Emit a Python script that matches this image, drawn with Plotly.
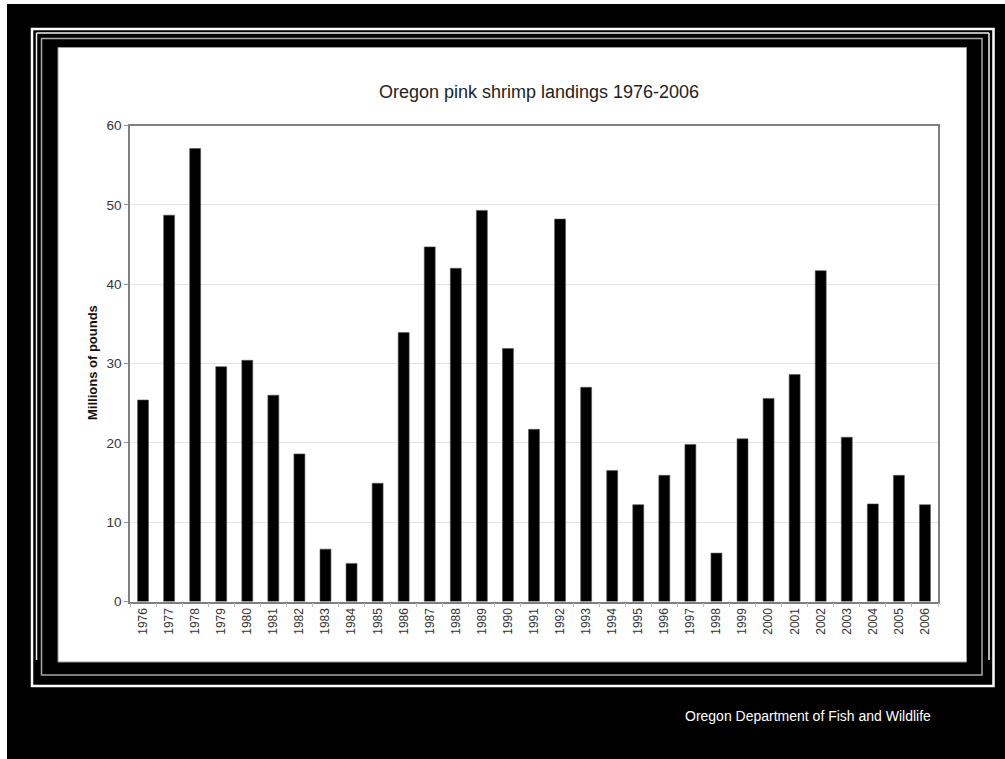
import plotly.graph_objects as go

years = [str(y) for y in range(1976, 2007)]
landings = [25.4, 48.7, 57.1, 29.6, 30.4, 26.0, 18.6, 6.6, 4.8, 14.9,
            33.9, 44.7, 42.0, 49.3, 31.9, 21.7, 48.2, 27.0, 16.5, 12.2,
            15.9, 19.8, 6.1, 20.5, 25.6, 28.6, 41.7, 20.7, 12.3, 15.9, 12.2]
y_ticks = [0, 10, 20, 30, 40, 50, 60]

W, H = 1005, 759
FONT = "Liberation Sans, Arial, sans-serif"


def px(x):
    return x / W


def py(y):
    return 1 - y / H


fig = go.Figure()
fig.add_trace(go.Bar(
    x=years, y=landings,
    marker=dict(color="#000000", line=dict(color="#555555", width=0.6)),
    width=0.42,
    hoverinfo="x+y",
))

shapes = []


def rect(x0, y0, x1, y1, fill=None, line=None, lw=0):
    d = dict(type="rect", xref="paper", yref="paper",
             x0=px(x0), x1=px(x1), y0=py(y1), y1=py(y0), layer="below")
    if fill:
        d["fillcolor"] = fill
    d["line"] = dict(color=line or "rgba(0,0,0,0)", width=lw)
    return d


def seg(x0, y0, x1, y1, color, lw):
    return dict(type="line", xref="paper", yref="paper",
                x0=px(x0), x1=px(x1), y0=py(y0), y1=py(y1),
                line=dict(color=color, width=lw), layer="below")


# black backdrop
shapes.append(rect(7, 4, W, H, fill="#000000"))
# outer white frame
shapes.append(rect(32, 29, 993.5, 686, line="#ffffff", lw=2.5))
# second white frame (open at bottom)
shapes.append(seg(36.5, 33, 989, 33, "#f0f0f0", 1.5))
shapes.append(seg(36.5, 33, 36.5, 660, "#f0f0f0", 1.5))
shapes.append(seg(989, 33, 989, 660, "#f0f0f0", 1.5))
# gray frame
shapes.append(rect(41.5, 38.5, 982, 675, line="#a8a8a8", lw=1.5))
# white chart panel
shapes.append(rect(58, 47.5, 966.5, 662, fill="#ffffff", line="#9a9a9a", lw=1))

fig.update_layout(
    template="none",
    width=W, height=H,
    margin=dict(l=0, r=0, t=0, b=0, pad=0, autoexpand=False),
    paper_bgcolor="#ffffff",
    plot_bgcolor="rgba(0,0,0,0)",
    shapes=shapes,
    showlegend=False,
    bargap=0.58,
    font=dict(family=FONT, color="#333333"),
    title=dict(text="Oregon pink shrimp landings 1976-2006",
               x=px(539), y=py(92), xref="paper", yref="paper",
               xanchor="center", yanchor="middle",
               font=dict(family=FONT, size=18, color="#222222")),
    xaxis=dict(
        domain=[px(130), px(938)],
        type="category",
        automargin=False,
        tickangle=-90,
        tickfont=dict(size=12, color="#333333"),
        ticks="outside", tickson="boundaries", ticklen=4,
        tickcolor="#bbbbbb", tickwidth=1,
        showline=True, linecolor="#808080", linewidth=1.5, mirror=True,
        showgrid=False,
    ),
    yaxis=dict(
        domain=[py(601.5), py(125.5)],
        range=[0, 60],
        automargin=False,
        tickvals=y_ticks,
        tickfont=dict(size=13.5, color="#333333"),
        ticks="outside", ticklen=4, tickcolor="#909090",
        showline=True, linecolor="#808080", linewidth=1.5, mirror=True,
        showgrid=True, gridcolor="#e3e3e3", gridwidth=1,
        zeroline=False,
    ),
    annotations=[
        dict(text="<b>Millions of pounds</b>", xref="paper", yref="paper",
             x=px(92), y=py(363), textangle=-90, showarrow=False,
             xanchor="center", yanchor="middle",
             font=dict(family=FONT, size=13, color="#111111")),
        dict(text="Oregon Department of Fish and Wildlife", xref="paper", yref="paper",
             x=px(683), y=py(716), showarrow=False,
             xanchor="left", yanchor="middle",
             font=dict(family=FONT, size=14, color="#ffffff")),
    ],
)

fig.write_html(
    "out.html",
    config={"displayModeBar": False},
    post_script=("document.body.style.margin='0';"
                 "document.body.style.padding='0';"
                 "document.body.style.overflow='hidden';"),
)
